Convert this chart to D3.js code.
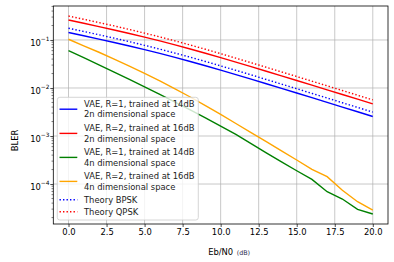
<!DOCTYPE html>
<html>
<head>
<meta charset="utf-8">
<script src="https://cdn.jsdelivr.net/npm/d3@7"></script>
<style>
  body { margin: 0; background: #fff; }
  svg { display: block; font-family: "DejaVu Sans", sans-serif; }
</style>
</head>
<body>
<div id="chart"></div>
<script>
// Eb/N0 points (dB)
const ebn0 = [0, 1, 2, 3, 4, 5, 6, 7, 8, 9, 10, 11, 12, 13, 14, 15, 16, 17, 18, 19, 20];

// BLER values
const vaeR1_2n = [0.1427, 0.1223, 0.1044, 0.0887, 0.0750, 0.0630, 0.0525, 0.0434, 0.0356, 0.0290, 0.0235,
  0.01895, 0.01525, 0.01223, 0.0098, 0.00785, 0.00628, 0.00503, 0.00401, 0.0032, 0.00255];
const vaeR2_2n = [0.260, 0.2227, 0.190, 0.1615, 0.1366, 0.1147, 0.0956, 0.0790, 0.0649, 0.0529, 0.0428,
  0.0345, 0.0278, 0.0223, 0.01786, 0.0143, 0.01144, 0.00916, 0.00731, 0.00584, 0.00465];
const vaeR1_4n = [0.0598, 0.0428, 0.0304, 0.0215, 0.0151, 0.0106, 0.0074, 0.0051, 0.00351, 0.00239, 0.00161,
  0.00108, 0.000695, 0.000447, 0.00029, 0.000189, 0.000125, 0.0000692, 0.0000487, 0.0000297, 0.0000237];
const vaeR2_4n = [0.1035, 0.0757, 0.0555, 0.0398, 0.0284, 0.0201, 0.0141, 0.00962, 0.00649, 0.0043, 0.00281,
  0.00182, 0.00118, 0.000767, 0.000492, 0.000316, 0.000202, 0.000142, 0.000074, 0.0000428, 0.0000287];
const theoryBPSK = [0.1754, 0.1503, 0.1283, 0.1090, 0.0922, 0.0774, 0.0645, 0.0533, 0.0438, 0.0357, 0.0289,
  0.0233, 0.01875, 0.01503, 0.01205, 0.00965, 0.00772, 0.00618, 0.00493, 0.00394, 0.00314];
const theoryQPSK = [0.315, 0.270, 0.230, 0.196, 0.1655, 0.139, 0.1158, 0.0957, 0.0786, 0.0641, 0.0519,
  0.0418, 0.0337, 0.0270, 0.0216, 0.01732, 0.01386, 0.01109, 0.00885, 0.00707, 0.00564];

const seriesNames = [
  ["VAE, R=1, trained at 14dB", "2n dimensional space"],
  ["VAE, R=2, trained at 16dB", "2n dimensional space"],
  ["VAE, R=1, trained at 14dB", "4n dimensional space"],
  ["VAE, R=2, trained at 16dB", "4n dimensional space"],
  ["Theory BPSK"],
  ["Theory QPSK"]
];

const xTicks = [0, 2.5, 5, 7.5, 10, 12.5, 15, 17.5, 20];
const yTicks = [1e-1, 1e-2, 1e-3, 1e-4];
const yTickExp = ["\u22121", "\u22122", "\u22123", "\u22124"];

const width = 394, height = 262;
const pLeft = 53.3, pRight = 388, pTop = 6, pBottom = 224;
const fs = 8.4;

const series = [
  { values: vaeR1_2n, color: "blue", dash: null },
  { values: vaeR2_2n, color: "red", dash: null },
  { values: vaeR1_4n, color: "green", dash: null },
  { values: vaeR2_4n, color: "orange", dash: null },
  { values: theoryBPSK, color: "blue", dash: "1.4,2.1" },
  { values: theoryQPSK, color: "red", dash: "1.4,2.1" }
];

const svg = d3.select("#chart")
  .append("svg")
  .attr("width", width)
  .attr("height", height);

const x = d3.scaleLinear()
  .domain([-1, 21])
  .range([pLeft, pRight]);

const y = d3.scaleLog()
  .domain([1.47e-5, 0.51])
  .range([pBottom, pTop]);

// grid
svg.append("g")
  .selectAll("line")
  .data(xTicks)
  .enter()
  .append("line")
  .attr("x1", d => x(d)).attr("x2", d => x(d))
  .attr("y1", pTop).attr("y2", pBottom)
  .attr("stroke", "#b0b0b0")
  .attr("stroke-width", 0.7);

svg.append("g")
  .selectAll("line")
  .data(yTicks)
  .enter()
  .append("line")
  .attr("x1", pLeft).attr("x2", pRight)
  .attr("y1", d => y(d)).attr("y2", d => y(d))
  .attr("stroke", "#b0b0b0")
  .attr("stroke-width", 0.7);

// curves
const line = d3.line()
  .x((d, i) => x(ebn0[i]))
  .y(d => y(d));

const plot = svg.append("g");
series.forEach(s => {
  plot.append("path")
    .datum(s.values)
    .attr("d", line)
    .attr("fill", "none")
    .attr("stroke", s.color)
    .attr("stroke-width", 1.4)
    .attr("stroke-dasharray", s.dash);
});

// axes
const xAxis = svg.append("g")
  .attr("transform", `translate(0,${pBottom})`)
  .call(d3.axisBottom(x).tickValues(xTicks).tickFormat(d3.format(".1f")).tickSize(3).tickPadding(2.5));
xAxis.select(".domain").remove();
xAxis.selectAll("line").attr("stroke", "#000").attr("stroke-width", 0.7);
xAxis.selectAll("text").attr("font-size", fs).attr("font-family", "DejaVu Sans").attr("fill", "#000");

// minor ticks for the log axis
const minors = [];
[1e-5, 1e-4, 1e-3, 1e-2, 1e-1].forEach(dec => {
  for (let k = 2; k <= 9; k++) {
    const v = dec * k;
    if (v > y.domain()[0] && v < y.domain()[1]) minors.push(v);
  }
});

const yAxis = svg.append("g")
  .attr("transform", `translate(${pLeft},0)`)
  .call(d3.axisLeft(y).tickValues(yTicks).tickFormat("").tickSize(3));
yAxis.select(".domain").remove();
yAxis.selectAll("line").attr("stroke", "#000").attr("stroke-width", 0.7);

svg.append("g")
  .selectAll("line")
  .data(minors)
  .enter()
  .append("line")
  .attr("x1", pLeft - 1.8).attr("x2", pLeft)
  .attr("y1", d => y(d)).attr("y2", d => y(d))
  .attr("stroke", "#000")
  .attr("stroke-width", 0.5);

const yLab = svg.append("g")
  .selectAll("text")
  .data(yTicks)
  .enter()
  .append("text")
  .attr("x", 49.5)
  .attr("y", d => y(d) + 6.2)
  .attr("text-anchor", "end")
  .attr("font-size", fs);
yLab.append("tspan").text("10");
yLab.append("tspan")
  .attr("dy", -5.3)
  .attr("font-size", fs * 0.7)
  .text((d, i) => yTickExp[i]);

// frame
svg.append("rect")
  .attr("x", pLeft).attr("y", pTop)
  .attr("width", pRight - pLeft).attr("height", pBottom - pTop)
  .attr("fill", "none")
  .attr("stroke", "#000")
  .attr("stroke-width", 0.8);

// axis labels
svg.append("text")
  .attr("x", (pLeft + pRight) / 2)
  .attr("y", 254.5)
  .attr("text-anchor", "middle")
  .attr("font-size", fs)
  .text("Eb/N0");
svg.append("text")
  .attr("x", 236.7)
  .attr("y", 254.5)
  .attr("font-size", 6.4)
  .attr("fill", "#2a2a50")
  .text("(dB)");

svg.append("text")
  .attr("transform", "translate(18,140.5) rotate(-90)")
  .attr("text-anchor", "middle")
  .attr("font-size", fs)
  .text("BLER");

// legend
const lg = svg.append("g");
lg.append("rect")
  .attr("x", 57.3).attr("y", 97.3)
  .attr("width", 141).attr("height", 122.7)
  .attr("rx", 2.5)
  .attr("fill", "#fff")
  .attr("fill-opacity", 0.8)
  .attr("stroke", "#cccccc")
  .attr("stroke-width", 0.8);

const rowY = [109.2, 133.4, 157.4, 181.4, 199.8, 211.8];
series.forEach((s, i) => {
  const cy = rowY[i];
  lg.append("line")
    .attr("x1", 59.5).attr("x2", 77.3)
    .attr("y1", cy).attr("y2", cy)
    .attr("stroke", s.color)
    .attr("stroke-width", 1.4)
    .attr("stroke-dasharray", s.dash);
  const lines = seriesNames[i];
  lines.forEach((t, j) => {
    const ly = cy + (j - (lines.length - 1) / 2) * 10.3;
    lg.append("text")
      .attr("x", 84)
      .attr("y", ly + 3.1)
      .attr("font-size", fs)
      .attr("fill", "#222")
      .text(t);
  });
});
</script>
</body>
</html>
